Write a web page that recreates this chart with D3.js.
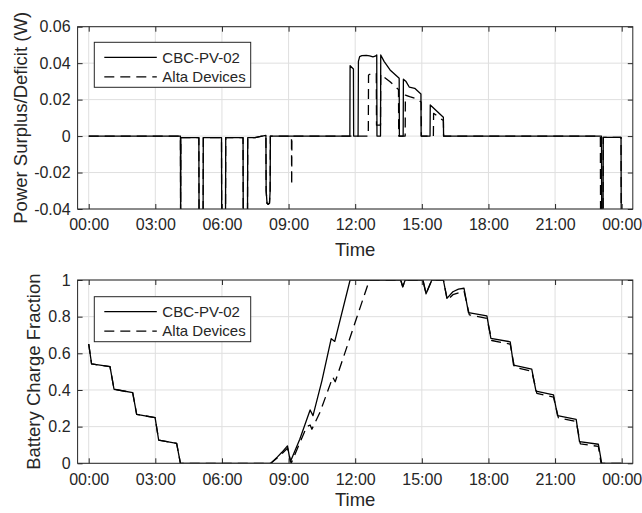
<!DOCTYPE html>
<html><head><meta charset="utf-8">
<script src="https://cdn.jsdelivr.net/npm/d3@7"></script>
<style>
body{margin:0;background:#fff;}
svg text{font-family:"Liberation Sans",Arial,Helvetica,sans-serif;fill:#262626;}
</style></head><body>
<svg id="c" width="642" height="513"></svg>
<script>
// ---------------- data ----------------
const seriesNames = ["CBC-PV-02", "Alta Devices"];
const xTickValues = [0, 3, 6, 9, 12, 15, 18, 21, 24];
const xTickLabels = ["00:00", "03:00", "06:00", "09:00", "12:00", "15:00", "18:00", "21:00", "00:00"];
const powerTicks = [-0.04, -0.02, 0, 0.02, 0.04, 0.06];
const powerTickLabels = ["-0.04", "-0.02", "0", "0.02", "0.04", "0.06"];
const chargeTicks = [0, 0.2, 0.4, 0.6, 0.8, 1];
const chargeTickLabels = ["0", "0.2", "0.4", "0.6", "0.8", "1"];

// power surplus/deficit (W), time in hours
const powerCbcTime = [0, 4.13, 4.14, 4.15, 4.96, 4.97, 5.15, 5.16, 5.98, 5.99, 6.16, 6.17, 6.95, 6.96, 7.15, 7.16, 7.49, 7.75, 7.98, 7.99, 8.03, 8.08, 8.14, 8.17, 8.18,
  11.76, 11.77, 11.92, 11.93, 12.13, 12.145, 12.2, 12.3, 12.5, 12.65, 12.8, 12.9, 12.97, 12.98,
  13.14, 13.15, 13.3, 13.57, 13.98, 13.99, 14.16, 14.17, 14.29, 14.44, 14.68, 14.96, 14.97,
  15.37, 15.38, 15.97, 15.98, 23.09, 23.10, 23.16, 23.17, 23.97, 23.98, 24.0];
const powerCbcValue = [0, 0, -0.05, -0.0009, -0.0009, -0.05, -0.05, -0.0009, -0.0009, -0.05, -0.05, -0.0009, -0.0009, -0.05, -0.05, -0.0009, -0.0009, -0.0002, 0.0004, -0.030, -0.0368, -0.0374, -0.0368, -0.030, 0,
  0, 0.0386, 0.0368, 0, 0, 0.041, 0.0436, 0.0441, 0.0443, 0.0440, 0.0434, 0.0438, 0.0445, 0,
  0, 0.0445, 0.0410, 0.0363, 0.0317, 0, 0, 0.0312, 0.0299, 0.0268, 0.0262, 0.0231, 0,
  0, 0.0171, 0.0103, 0, 0, -0.05, -0.05, -0.0007, -0.0007, -0.05, -0.05];

const powerAltaTime = [0, 4.13, 4.14, 4.15, 4.96, 4.97, 5.15, 5.16, 5.98, 5.99, 6.16, 6.17, 6.95, 6.96, 7.15, 7.16, 7.49, 7.75, 7.98, 7.99, 8.03, 8.08, 8.14, 8.17, 8.18,
  9.13, 9.14, 9.15, 12.59, 12.6, 12.7, 12.95, 12.96, 13.14, 13.15, 13.27, 13.57, 13.95, 13.96,
  14.25, 14.26, 14.45, 14.7, 14.97, 14.98, 15.52, 15.53, 15.97, 15.98,
  23.04, 23.05, 23.16, 23.17, 23.97, 23.98, 24.0];
const powerAltaValue = [0, 0, -0.05, -0.0009, -0.0009, -0.05, -0.05, -0.0009, -0.0009, -0.05, -0.05, -0.0009, -0.0009, -0.05, -0.05, -0.0009, -0.0009, -0.0002, 0.0004, -0.030, -0.0368, -0.0374, -0.0368, -0.030, 0,
  0, -0.0268, 0, 0, 0.0335, 0.0342, 0.0344, 0.006, 0.006, 0.034, 0.0326, 0.0298, 0.0255, 0,
  0, 0.0225, 0.0216, 0.0207, 0.0187, 0, 0, 0.0125, 0.0085, 0,
  0, -0.05, -0.05, -0.0007, -0.0007, -0.05, -0.05];

// battery charge fraction
const chargeCbcTime = [0, 0.13, 0.96, 1.14, 1.98, 2.16, 2.99, 3.15, 3.96, 4.13, 8.2, 8.5, 8.7, 8.95, 9.08, 9.5, 9.97, 10.1, 10.5, 10.92, 11.08, 11.77,
  14.05, 14.14, 14.25, 15.05, 15.19, 15.45, 15.97, 16.13, 16.4, 16.65, 16.9, 17.1, 17.93, 18.11, 18.98, 19.13, 19.95, 20.14, 20.93, 21.11, 21.95, 22.1, 22.95, 23.1, 24.0];
const chargeCbcValue = [0.651, 0.542, 0.527, 0.404, 0.385, 0.267, 0.249, 0.127, 0.109, 0, 0, 0.035, 0.06, 0.095, 0.008, 0.13, 0.291, 0.26, 0.45, 0.68, 0.665, 1.0,
  1.0, 0.963, 1.0, 1.0, 0.925, 1.0, 1.0, 0.9, 0.936, 0.95, 0.955, 0.822, 0.804, 0.682, 0.663, 0.536, 0.514, 0.394, 0.373, 0.26, 0.24, 0.118, 0.104, 0, 0];

const chargeAltaTime = [0, 0.13, 0.96, 1.14, 1.98, 2.16, 2.99, 3.15, 3.96, 4.13, 8.2, 8.5, 8.7, 8.95, 9.12, 9.37, 9.82, 9.97, 10.05, 10.42, 10.99, 11.1, 12.64,
  14.05, 14.14, 14.25, 15.05, 15.19, 15.45, 15.97, 16.15, 16.4, 16.9, 17.14, 17.93, 18.15, 18.98, 19.17, 19.95, 20.18, 20.93, 21.15, 21.95, 22.14, 22.95, 23.07, 24.0];
const chargeAltaValue = [0.651, 0.542, 0.527, 0.404, 0.385, 0.267, 0.249, 0.127, 0.109, 0, 0, 0.03, 0.052, 0.082, 0, 0.073, 0.2, 0.209, 0.186, 0.28, 0.47, 0.445, 1.0,
  1.0, 0.963, 1.0, 1.0, 0.925, 1.0, 1.0, 0.89, 0.92, 0.94, 0.81, 0.79, 0.67, 0.65, 0.524, 0.502, 0.382, 0.361, 0.248, 0.228, 0.106, 0.092, 0, 0];

// ---------------- drawing ----------------
const svg = d3.select("#c");
const L = 77.6, R = 632.8;
const x = d3.scaleLinear().domain([-0.5, 24.5]).range([L, R]);
const axisColor = "#262626", gridColor = "#dfdfdf";

function zip(t, v) { return t.map((d, i) => ({ t: d, v: v[i] })); }

function panel(cfg) {
  const y = d3.scaleLinear().domain(cfg.domain).range([cfg.bottom, cfg.top]);
  const g = svg.append("g");
  const clipId = "clip" + cfg.id;
  svg.append("clipPath").attr("id", clipId).append("rect")
    .attr("x", L).attr("y", cfg.top).attr("width", R - L).attr("height", cfg.bottom - cfg.top);

  // grid
  g.append("g").selectAll("line").data(xTickValues).join("line")
    .attr("x1", d => x(d)).attr("x2", d => x(d)).attr("y1", cfg.top).attr("y2", cfg.bottom)
    .attr("stroke", gridColor).attr("stroke-width", 1);
  g.append("g").selectAll("line").data(cfg.ticks).join("line")
    .attr("x1", L).attr("x2", R).attr("y1", d => y(d)).attr("y2", d => y(d))
    .attr("stroke", gridColor).attr("stroke-width", 1);

  // lines
  const line = d3.line().x(d => x(d.t)).y(d => y(d.v));
  const lg = g.append("g").attr("clip-path", `url(#${clipId})`);
  lg.append("path").datum(zip(cfg.altaT, cfg.altaV)).attr("d", line)
    .attr("fill", "none").attr("stroke", "#000").attr("stroke-width", 1.3)
    .attr("stroke-dasharray", "10,6").attr("stroke-linejoin", "round");
  lg.append("path").datum(zip(cfg.cbcT, cfg.cbcV)).attr("d", line)
    .attr("fill", "none").attr("stroke", "#000").attr("stroke-width", 1.3).attr("stroke-linejoin", "round");

  // axes (inward ticks)
  const xb = d3.axisBottom(x).tickValues(xTickValues).tickFormat((d, i) => xTickLabels[i]).tickSizeInner(-5).tickSizeOuter(0).tickPadding(10);
  const xt = d3.axisTop(x).tickValues(xTickValues).tickFormat("").tickSizeInner(-5).tickSizeOuter(0);
  const yl = d3.axisLeft(y).tickValues(cfg.ticks).tickFormat((d, i) => cfg.tickLabels[i]).tickSizeInner(-5).tickSizeOuter(0).tickPadding(7);
  const yr = d3.axisRight(y).tickValues(cfg.ticks).tickFormat("").tickSizeInner(-5).tickSizeOuter(0);
  const ax = [
    g.append("g").attr("transform", `translate(0,${cfg.bottom})`).call(xb),
    g.append("g").attr("transform", `translate(0,${cfg.top})`).call(xt),
    g.append("g").attr("transform", `translate(${L},0)`).call(yl),
    g.append("g").attr("transform", `translate(${R},0)`).call(yr)
  ];
  ax.forEach(a => {
    a.select(".domain").remove();
    a.selectAll(".tick line").attr("stroke", axisColor);
    a.selectAll(".tick text").attr("fill", axisColor).style("font-size", "16px").style("font-family", "'Liberation Sans', Arial, sans-serif");
  });
  g.append("rect").attr("x", L).attr("y", cfg.top).attr("width", R - L).attr("height", cfg.bottom - cfg.top)
    .attr("fill", "none").attr("stroke", axisColor).attr("stroke-width", 1);

  // labels
  g.append("text").attr("x", (L + R) / 2).attr("y", cfg.xLabelY).attr("text-anchor", "middle")
    .style("font-size", "18.5px").text("Time");
  g.append("text").attr("transform", `translate(${cfg.yLabelX},${(cfg.top + cfg.bottom) / 2}) rotate(-90)`)
    .attr("text-anchor", "middle").style("font-size", "18.5px").text(cfg.yLabel);

  // legend
  const lx = 94.3, lw = 156.4, ly = cfg.legendTop, lh = 45;
  const leg = g.append("g");
  leg.append("rect").attr("x", lx).attr("y", ly).attr("width", lw).attr("height", lh)
    .attr("fill", "#fff").attr("stroke", axisColor).attr("stroke-width", 1);
  seriesNames.forEach((name, i) => {
    const cy = ly + 15 + i * 19.5;
    leg.append("line").attr("x1", lx + 10).attr("x2", lx + 62.5).attr("y1", cy).attr("y2", cy)
      .attr("stroke", "#000").attr("stroke-width", 1.3).attr("stroke-dasharray", i === 1 ? "10,6" : null);
    leg.append("text").attr("x", lx + 68).attr("y", cy).attr("dy", "0.35em").style("font-size", "15px").text(name);
  });
}

panel({
  id: 1, top: 26.7, bottom: 209, domain: [-0.04, 0.06], ticks: powerTicks, tickLabels: powerTickLabels,
  cbcT: powerCbcTime, cbcV: powerCbcValue, altaT: powerAltaTime, altaV: powerAltaValue,
  xLabelY: 256, yLabelX: 26.5, yLabel: "Power Surplus/Deficit (W)", legendTop: 42.3
});
panel({
  id: 2, top: 280, bottom: 463.3, domain: [0, 1], ticks: chargeTicks, tickLabels: chargeTickLabels,
  cbcT: chargeCbcTime, cbcV: chargeCbcValue, altaT: chargeAltaTime, altaV: chargeAltaValue,
  xLabelY: 506, yLabelX: 40, yLabel: "Battery Charge Fraction", legendTop: 296.7
});
</script>
</body></html>
